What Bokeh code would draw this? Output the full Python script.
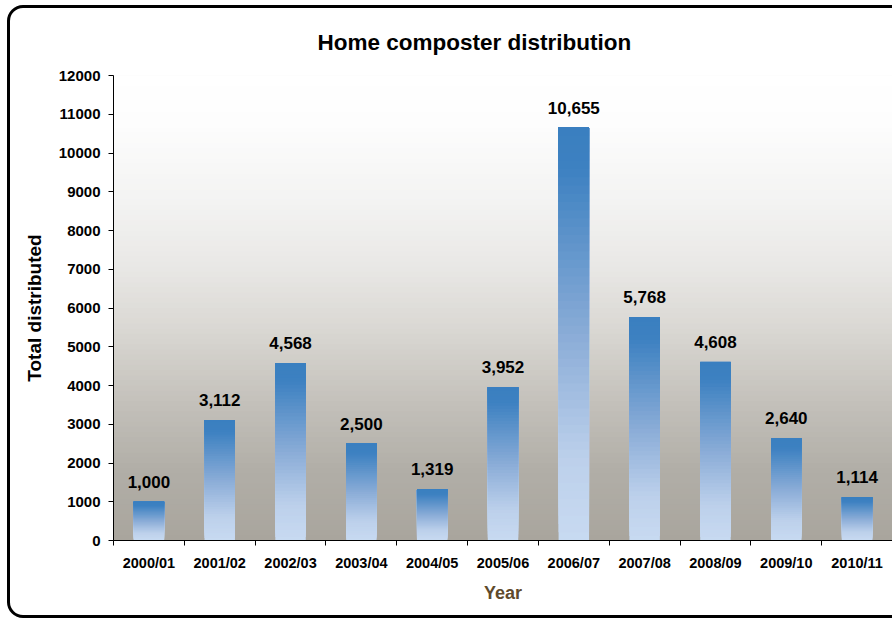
from bokeh.plotting import figure
from bokeh.models import (FixedTicker, ColumnDataSource, LabelSet, BasicTickFormatter,
                          InlineStyleSheet)
from bokeh.core.properties import value
from bokeh.embed import file_html
from bokeh.resources import INLINE

# ---------------- data ----------------
years = ["2000/01", "2001/02", "2002/03", "2003/04", "2004/05", "2005/06",
         "2006/07", "2007/08", "2008/09", "2009/10", "2010/11"]
totals = [1000, 3112, 4568, 2500, 1319, 3952, 10655, 5768, 4608, 2640, 1114]
y_ticks = [0, 1000, 2000, 3000, 4000, 5000, 6000, 7000, 8000, 9000, 10000, 11000, 12000]
title_text = "Home composter distribution"
x_title = "Year"
y_title = "Total distributed"

FONT = "Liberation Sans"

# ---------------- style helpers ----------------
def hex2rgb(h):
    h = h.lstrip("#")
    return tuple(int(h[i:i + 2], 16) for i in (0, 2, 4))

def blend(stops, t):
    for (t0, c0), (t1, c1) in zip(stops[:-1], stops[1:]):
        if t0 <= t <= t1:
            f = 0 if t1 == t0 else (t - t0) / (t1 - t0)
            a, b = hex2rgb(c0), hex2rgb(c1)
            return "#%02x%02x%02x" % tuple(round(a[k] + (b[k] - a[k]) * f) for k in range(3))
    return stops[-1][1] if t > stops[-1][0] else stops[0][1]

# background gradient stops (fraction of y range, colour)
bg_stops = [(0.0, "#a9a59d"), (0.15, "#b1aea7"), (0.30, "#c4c1bb"), (0.45, "#d9d7d2"),
            (0.60, "#eae9e7"), (0.73, "#f3f3f2"), (0.90, "#fdfdfd"), (1.0, "#ffffff")]
# bar gradient stops (fraction from top of bar, colour)
bar_stops = [(0.0, "#3a7fc0"), (0.1, "#3d81c1"), (0.5, "#8aacd7"), (0.8, "#bcd0eb"),
             (1.0, "#c8daf1")]

x_pos = list(range(1, len(years) + 1))
y_max = y_ticks[-1]

p = figure(width=892, height=619, x_range=(0.5, len(years) + 0.5), y_range=(0, y_max),
           output_backend="svg", toolbar_location=None,
           min_border_left=113, min_border_right=0, min_border_top=75, min_border_bottom=79)
p.background_fill_color = "white"
p.border_fill_color = "white"
p.outline_line_color = "#9a9a9a"
p.grid.visible = False

# background gradient (layered slices)
N = 90
bg_bottom = [y_max * k / N for k in range(N)]
bg_col = [blend(bg_stops, (k + 0.5) / N) for k in range(N)]
p.quad(left=0.5, right=len(years) + 0.5, bottom=bg_bottom, top=y_max,
       fill_color=bg_col, line_color=None)

# bars with vertical gradient (layered slices)
M = 50
bw = 0.43
bl, br, bb, bt, bc = [], [], [], [], []
for xp, v in zip(x_pos, totals):
    for k in range(M):
        bl.append(xp - bw / 2)
        br.append(xp + bw / 2)
        bb.append(v * k / M)
        bt.append(v)
        bc.append(blend(bar_stops, 1 - (k + 0.5) / M))
p.quad(left=bl, right=br, bottom=bb, top=bt, fill_color=bc, line_color=None)

# data labels
src = ColumnDataSource(dict(x=x_pos, y=totals, t=[f"{v:,}" for v in totals]))
labels = LabelSet(x="x", y="y", text="t", source=src, text_align="center",
                  text_baseline="alphabetic", y_offset=14,
                  text_font=value(FONT), text_font_size=value("17px"),
                  text_font_style="bold", text_color="black")
p.add_layout(labels)

# x axis: labels at centres, ticks at category boundaries
xa = p.xaxis[0]
xa.ticker = FixedTicker(ticks=x_pos, minor_ticks=[xp - 0.5 for xp in x_pos] + [x_pos[-1] + 0.5])
xa.major_label_overrides = {xp: yr for xp, yr in zip(x_pos, years)}
xa.major_tick_in = 0
xa.major_tick_out = 0
xa.minor_tick_in = 0
xa.minor_tick_out = 5
xa.minor_tick_line_color = "black"
xa.axis_line_color = "black"
xa.major_label_text_font = FONT
xa.major_label_text_font_size = "14.5px"
xa.major_label_text_font_style = "bold"
xa.major_label_text_color = "black"
xa.major_label_standoff = 9
xa.axis_label = x_title
xa.axis_label_text_font = FONT
xa.axis_label_text_font_size = "18px"
xa.axis_label_text_font_style = "bold"
xa.axis_label_text_color = "#5f4a2c"
xa.axis_label_standoff = 9

ya = p.yaxis[0]
ya.ticker = FixedTicker(ticks=y_ticks)
ya.formatter = BasicTickFormatter(use_scientific=False)
ya.major_tick_in = 0
ya.major_tick_out = 5
ya.major_tick_line_color = "black"
ya.minor_tick_line_color = None
ya.axis_line_color = "black"
ya.major_label_text_font = FONT
ya.major_label_text_font_size = "15px"
ya.major_label_text_font_style = "bold"
ya.major_label_text_color = "black"
ya.major_label_standoff = 8
ya.axis_label = y_title
ya.axis_label_text_font = FONT
ya.axis_label_text_font_size = "19px"
ya.axis_label_text_font_style = "bold"
ya.axis_label_text_color = "black"
ya.axis_label_standoff = 11

p.title.text = title_text
p.title.text_font = FONT
p.title.text_font_size = "22.5px"
p.title.text_font_style = "bold"
p.title.text_color = "black"
p.title.align = "left"
p.title.offset = 204
p.title.standoff = 41

# rounded outer border (drawn by CSS over the canvas, clipped at the right edge)
p.stylesheets = [InlineStyleSheet(css="""
:host { position: relative; overflow: hidden; }
:host::after {
  content: ""; position: absolute; left: 7px; top: 5px;
  width: 960px; height: 613px; box-sizing: border-box;
  border: 3.5px solid black; border-radius: 16px; pointer-events: none;
}
""")]

open("out.html", "w").write(file_html(p, INLINE))
